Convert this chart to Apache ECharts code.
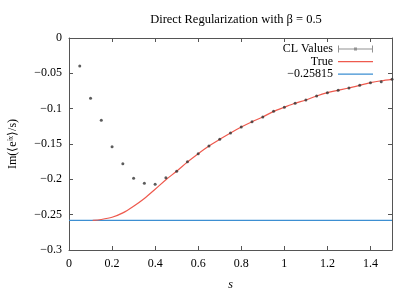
<!DOCTYPE html>
<html><head><meta charset="utf-8">
<script src="https://cdn.jsdelivr.net/npm/echarts@6/dist/echarts.min.js"></script>
<style>html,body{margin:0;padding:0;background:#fff}#c{width:415px;height:291px}</style>
</head><body><div id="c"></div>
<script>
const clS = [0.05,0.1,0.15,0.2,0.25,0.3,0.35,0.4,0.45,0.5,0.55,0.6,0.65,0.7,0.75,0.8,0.85,0.9,0.95,1.0,1.05,1.1,1.15,1.2,1.25,1.3,1.35,1.4,1.45,1.5];
const clValues = [-0.0396,-0.0853,-0.1165,-0.1538,-0.178,-0.1986,-0.2057,-0.207,-0.1976,-0.1887,-0.175,-0.1637,-0.1528,-0.1434,-0.1344,-0.126,-0.1184,-0.1118,-0.1038,-0.098,-0.0924,-0.0877,-0.082,-0.0774,-0.074,-0.0707,-0.067,-0.0632,-0.0618,-0.0585];
const trueS = [0.11,0.15,0.2,0.25,0.3,0.35,0.4,0.45,0.5,0.55,0.6,0.65,0.7,0.75,0.8,0.85,0.9,0.95,1.0,1.05,1.1,1.15,1.2,1.25,1.3,1.35,1.4,1.45,1.5];
const trueValues = [-0.2581,-0.2568,-0.2537,-0.2475,-0.238,-0.227,-0.214,-0.2005,-0.1885,-0.1755,-0.1637,-0.1528,-0.1434,-0.1344,-0.126,-0.1184,-0.1118,-0.1038,-0.098,-0.0924,-0.0877,-0.082,-0.0774,-0.074,-0.0707,-0.067,-0.0632,-0.0605,-0.0585];
const constS = [0, 1.5];
const constValues = [-0.25815, -0.25815];
const constLabel = '\u22120.25815';

const font = 'Liberation Serif';
const axisColor = '#555';
const fs = 12;
const fmt = v => (Math.abs(v) < 1e-9 ? '0' : String(+v.toFixed(3)).replace('-', '\u2212'));
const zip = (a, b) => a.map((x, i) => [x, b[i]]);
const lineIcon = 'path://M0,0h0.01v0.01h-0.01Z M0,3H35V4.2H0Z M34.99,6.99h0.01v0.01h-0.01Z';

const chart = echarts.init(document.getElementById('c'), null, {renderer: 'canvas'});
const xBase = {type: 'value', min: 0, max: 1.5, interval: 0.2,
  axisLine: {show: true, onZero: false, lineStyle: {color: axisColor, width: 1}},
  axisTick: {show: true, inside: true, length: 4, lineStyle: {color: axisColor}},
  splitLine: {show: false}};
const yBase = {type: 'value', min: -0.3, max: 0, interval: 0.05,
  axisLine: {show: true, onZero: false, lineStyle: {color: axisColor, width: 1}},
  axisTick: {show: true, inside: true, length: 4, lineStyle: {color: axisColor}},
  splitLine: {show: false}};
chart.setOption({
  animation: false,
  textStyle: {fontFamily: font},
  title: {text: 'Direct Regularization with \u03b2 = 0.5', left: 231, textAlign: 'center', top: 8,
    textStyle: {fontFamily: font, fontSize: 12.5, fontWeight: 'normal', color: '#000'}},
  grid: {left: 69, right: 23, top: 38, bottom: 41, containLabel: false, outerBoundsMode: 'none'},
  xAxis: [
    Object.assign({}, xBase, {position: 'bottom', name: 's', nameLocation: 'middle', nameGap: 29,
      nameTextStyle: {fontFamily: font, fontStyle: 'italic', fontSize: fs, color: '#000'},
      axisLabel: {fontFamily: font, fontSize: fs, color: '#000', margin: 8, formatter: fmt, showMaxLabel: false}}),
    Object.assign({}, xBase, {position: 'top', axisLabel: {show: false}})
  ],
  yAxis: [
    Object.assign({}, yBase, {position: 'left', name: 'Im(\u27e8e\u2071\u02e3\u27e9/s)', nameLocation: 'middle', nameGap: 50, nameRotate: 90,
      nameTextStyle: {fontFamily: font, fontSize: fs, color: '#000'},
      axisLabel: {fontFamily: font, fontSize: fs, color: '#000', margin: 7, formatter: fmt}}),
    Object.assign({}, yBase, {position: 'right', axisLabel: {show: false}})
  ],
  legend: {right: 37, top: 38, orient: 'vertical', align: 'right', itemWidth: 35, itemHeight: 7, itemGap: 0.5,
    textStyle: {fontFamily: font, fontSize: fs, color: '#000', lineHeight: 12, padding: [0, 0, 0, 0]},
    data: [
      {name: 'CL Values', icon: 'path://M0,0H1V3H34V0H35V7H34V4H1V7H0Z M16,2H19V5H16Z', itemStyle: {color: '#777'}},
      {name: 'True', icon: lineIcon},
      {name: constLabel, icon: lineIcon}
    ]},
  series: [
    {name: 'CL Values', type: 'scatter', data: zip(clS, clValues), symbol: 'circle', symbolSize: 3,
      itemStyle: {color: '#333'}, z: 5},
    {name: 'True', type: 'line', data: zip(trueS, trueValues), smooth: 0.3, symbol: 'none',
      lineStyle: {color: '#ee5a4e', width: 1.2}, itemStyle: {color: '#ee5a4e'}, z: 4},
    {name: constLabel, type: 'line', data: zip(constS, constValues), symbol: 'none',
      lineStyle: {color: '#3d8fd2', width: 1.2}, itemStyle: {color: '#3d8fd2'}, z: 3}
  ]
});
</script></body></html>
